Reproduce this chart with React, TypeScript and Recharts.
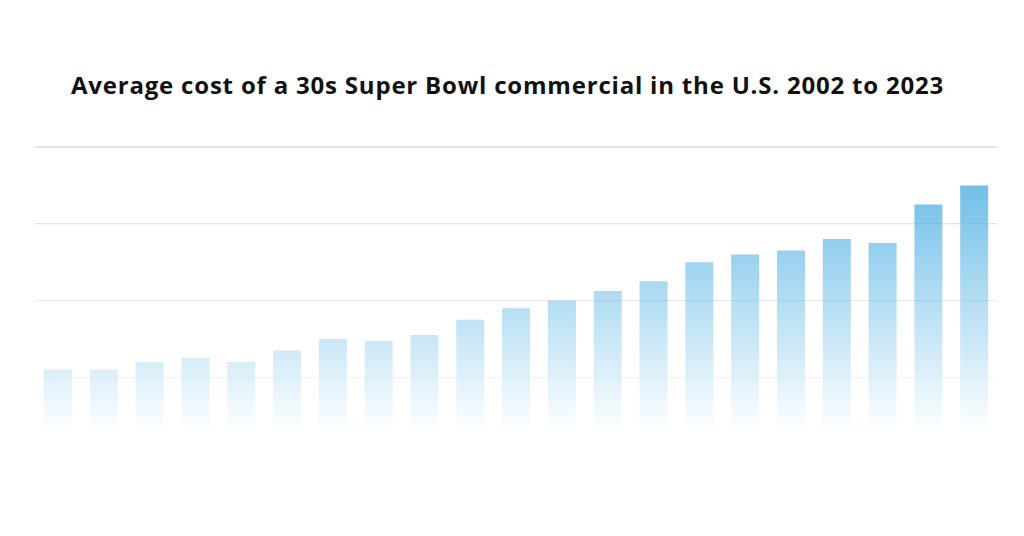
import React from 'react';
import { BarChart, Bar, XAxis, YAxis, CartesianGrid } from 'recharts';

/* ---------- DATA ---------- */
const years: string[] = [
  '2003', '2004', '2005', '2006', '2007', '2008', '2009', '2010', '2011', '2012', '2013',
  '2014', '2015', '2016', '2017', '2018', '2019', '2020', '2021', '2022', '2023',
];

// average cost in million U.S. dollars
const costs: number[] = [
  2.2, 2.2, 2.4, 2.5, 2.4, 2.7, 3.0, 2.95, 3.1, 3.5, 3.8,
  4.0, 4.25, 4.5, 5.0, 5.2, 5.3, 5.6, 5.5, 6.5, 7.0,
];

const yTicks: number[] = [0, 2, 4, 6, 8];

const chartData = years.map((year, i) => ({ year, cost: costs[i] }));

const WIDTH = 1024;
const HEIGHT = 536;
const MARGIN = { top: 147, right: 27, bottom: 82, left: 35 };

export default function App() {
  return (
    <div
      style={{
        position: 'absolute',
        left: 0,
        top: 0,
        width: WIDTH,
        height: HEIGHT,
        background: '#ffffff',
        overflow: 'hidden',
      }}
    >
      <div
        style={{
          position: 'absolute',
          top: 68,
          left: 0,
          width: WIDTH,
          textAlign: 'center',
          fontFamily: '"Open Sans", sans-serif',
          fontWeight: 700,
          fontSize: 24,
          color: '#111111',
          letterSpacing: '0.8px',
          paddingRight: 9,
          boxSizing: 'border-box',
        }}
      >
        Average cost of a 30s Super Bowl commercial in the U.S. 2002 to 2023
      </div>
      <BarChart width={WIDTH} height={HEIGHT} data={chartData} margin={MARGIN}>
        <defs>
          {/* vertical fade shared by bars and grid, in page pixels */}
          <linearGradient
            id="barFade"
            gradientUnits="userSpaceOnUse"
            x1={0}
            y1={150}
            x2={0}
            y2={432}
          >
            <stop offset="0%" stopColor="#5db6e5" stopOpacity={1} />
            <stop offset="100%" stopColor="#5db6e5" stopOpacity={0} />
          </linearGradient>
          <linearGradient
            id="gridFade"
            gradientUnits="userSpaceOnUse"
            x1={0}
            y1={140}
            x2={0}
            y2={440}
          >
            <stop offset="0%" stopColor="#cccccc" stopOpacity={1} />
            <stop offset="100%" stopColor="#cccccc" stopOpacity={0} />
          </linearGradient>
        </defs>
        <CartesianGrid vertical={false} stroke="url(#gridFade)" strokeWidth={1.2} />
        <XAxis dataKey="year" hide />
        <YAxis hide domain={[0, 8]} ticks={yTicks} />
        <Bar dataKey="cost" fill="url(#barFade)" barSize={28} isAnimationActive={false} />
      </BarChart>
    </div>
  );
}
